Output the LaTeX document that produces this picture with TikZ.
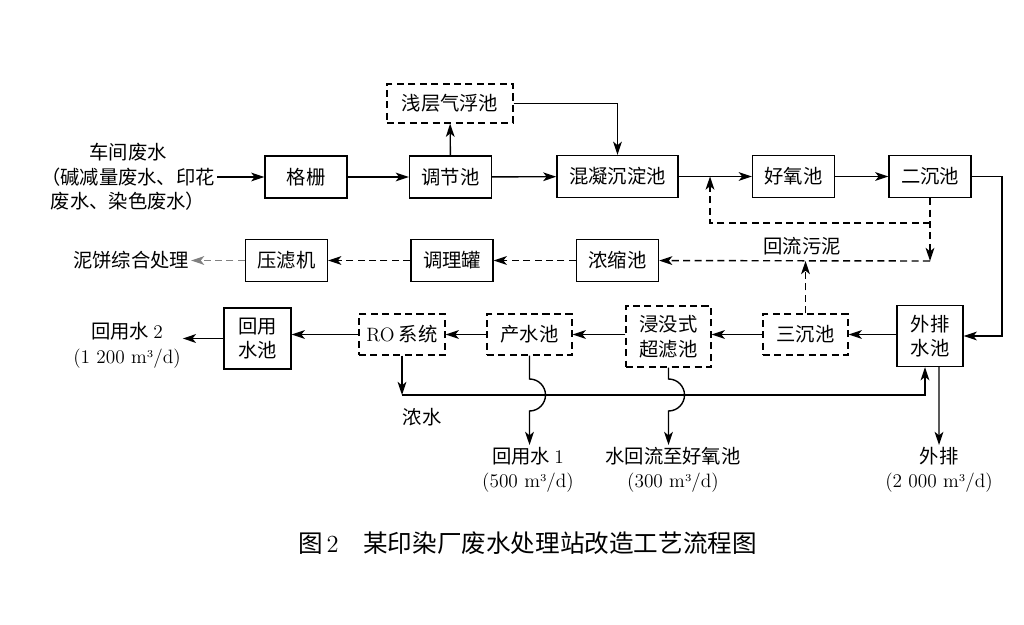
\documentclass[tikz,border=0pt]{standalone}
\usepackage{fontspec}
\usetikzlibrary{arrows.meta,calc}
\newfontfamily\cjk{Noto Sans CJK SC}
\newcommand{\cubm}{m\raisebox{0.75ex}{\fontsize{6}{6}\selectfont 3}}

\begin{document}
\begin{tikzpicture}[x=0.02cm,y=-0.02cm,>={Stealth[length=7.5pt,width=5pt,inset=2pt]}]
\tikzset{mainline/.style={line width=0.8pt,color=black}};
\tikzset{flowline/.style={mainline,->}};
\tikzset{sludgeline/.style={mainline,->,dash pattern=on 4pt off 2.5pt}};
\tikzset{unit/.style={draw,mainline,font=\cjk\fontsize{11}{14}\selectfont,align=center,minimum width=1.64cm,minimum height=0.84cm,inner sep=1pt}};
\tikzset{newunit/.style={unit,dash pattern=on 4pt off 2.5pt}};
\tikzset{note/.style={font=\cjk\fontsize{11}{14}\selectfont,align=center,inner sep=1pt}};

\pgfmathsetmacro{\hump}{16};
\pgfmathsetmacro{\brine}{395};
\pgfmathsetmacro{\sludge}{261};

\useasboundingbox (0,0) rectangle (1024,625);

\node[note] (raw) at (128,177) {车间废水\\（碱减量废水、印花\\废水、染色废水）};
\node[unit] (grid) at (306,177) {格栅};
\node[unit] (equal) at (450.5,177) {调节池};
\node[newunit,minimum width=2.52cm,minimum height=0.78cm] (daf) at (450,103.5) {浅层气浮池};
\node[unit,minimum width=2.42cm] (coag) at (617.5,176.5) {混凝沉淀池};
\node[unit] (aer) at (793.5,176.5) {好氧池};
\node[unit] (sec) at (930,176.5) {二沉池};

\node[unit] (thick) at (617.5,260.5) {浓缩池};
\node[unit] (cond) at (452,260.5) {调理罐};
\node[unit] (press) at (286.5,260.5) {压滤机};
\node[note] (cake) at (131,260.5) {泥饼综合处理};
\node[note] (rs) at (802,246) {回流污泥};

\node[unit,minimum width=1.32cm,minimum height=1.22cm] (outp) at (930,336) {外排\\水池};
\node[newunit,minimum width=1.7cm,minimum height=0.82cm] (ter) at (805.5,334.5) {三沉池};
\node[newunit,minimum width=1.7cm,minimum height=1.22cm] (uf) at (668.5,336.5) {浸没式\\超滤池};
\node[newunit,minimum width=1.7cm,minimum height=0.82cm] (prod) at (529.5,334.5) {产水池};
\node[newunit,minimum width=1.72cm,minimum height=0.82cm] (ro) at (402,334.5) {{\rmfamily RO} 系统};
\node[unit,minimum width=1.34cm,minimum height=1.22cm] (reuse) at (257.5,338.5) {回用\\水池};
\node[note] (reuse2) at (127,345.5) {回用水 {\rmfamily 2}\\{\rmfamily (1 200 \cubm/d)}};

\node[note] (brn) at (422,417) {浓水};
\node[note,anchor=north] (reuse1) at (528,445) {回用水 {\rmfamily 1}\\{\rmfamily (500 \cubm/d)}};
\node[note,anchor=north] (back) at (673,445) {水回流至好氧池\\{\rmfamily (300 \cubm/d)}};
\node[note,anchor=north] (disch) at (939,445) {外排\\{\rmfamily (2 000 \cubm/d)}};

\node[note,font=\cjk\fontsize{14}{16}\selectfont] (cap) at (527.5,543) {图\,{\rmfamily 2}\quad 某印染厂废水处理站改造工艺流程图};

\coordinate (mix) at (710,176.5);
\coordinate (turn) at (1002,176.5);
\coordinate (ret) at (sec.south |- 0,223);
\coordinate (sd) at (sec.south |- 0,\sludge);
\coordinate (up) at (ter.north |- 0,\sludge);
\coordinate (brj) at (ro.south |- 0,\brine);
\coordinate (brk) at ([xshift=-0.1cm]outp.south |- 0,\brine);

\draw[flowline] (raw) -- (grid);
\draw[flowline] (grid) -- (equal);
\draw[flowline] (equal) -- (coag);
\draw[flowline] (equal) -- (daf);
\draw[flowline] (daf.east) -| (coag.north);
\draw[flowline] (coag) -- (aer);
\draw[flowline] (aer) -- (sec);
\draw[flowline] (sec.east) -- (turn) |- (outp.east);

\draw[sludgeline] (sec.south) -- (sd);
\draw[sludgeline] (ret) -| (mix);
\draw[sludgeline] (sd) -- (thick);
\draw[sludgeline] (ter) -- (up);
\draw[sludgeline] (thick) -- (cond);
\draw[sludgeline] (cond) -- (press);
\draw[sludgeline,gray] (press) -- (cake);

\draw[flowline] (outp.west |- ter.east) -- (ter.east);
\draw[flowline] (ter.west) -- (uf.east |- ter.west);
\draw[flowline] (uf.west |- prod.east) -- (prod.east);
\draw[flowline] (prod) -- (ro);
\draw[flowline] (ro.west) -- (reuse.east |- ro.west);
\draw[flowline] (reuse.west) -- (reuse2.east |- reuse.west);

\draw[flowline] (ro.south) -- (brj);
\draw[flowline] (brj) -- (brk) -- ([xshift=-0.1cm]outp.south);
\draw[flowline] ([xshift=0.18cm]outp.south) -- (disch.north);
\draw[flowline] (prod.south) -- ($(brj -| prod.south)+(0,-\hump)$) arc[start angle=-90,end angle=90,radius=\hump] -- (prod.south |- reuse1.north);
\draw[flowline] (uf.south) -- ($(brj -| uf.south)+(0,-\hump)$) arc[start angle=-90,end angle=90,radius=\hump] -- (uf.south |- back.north);
\end{tikzpicture}
\end{document}
